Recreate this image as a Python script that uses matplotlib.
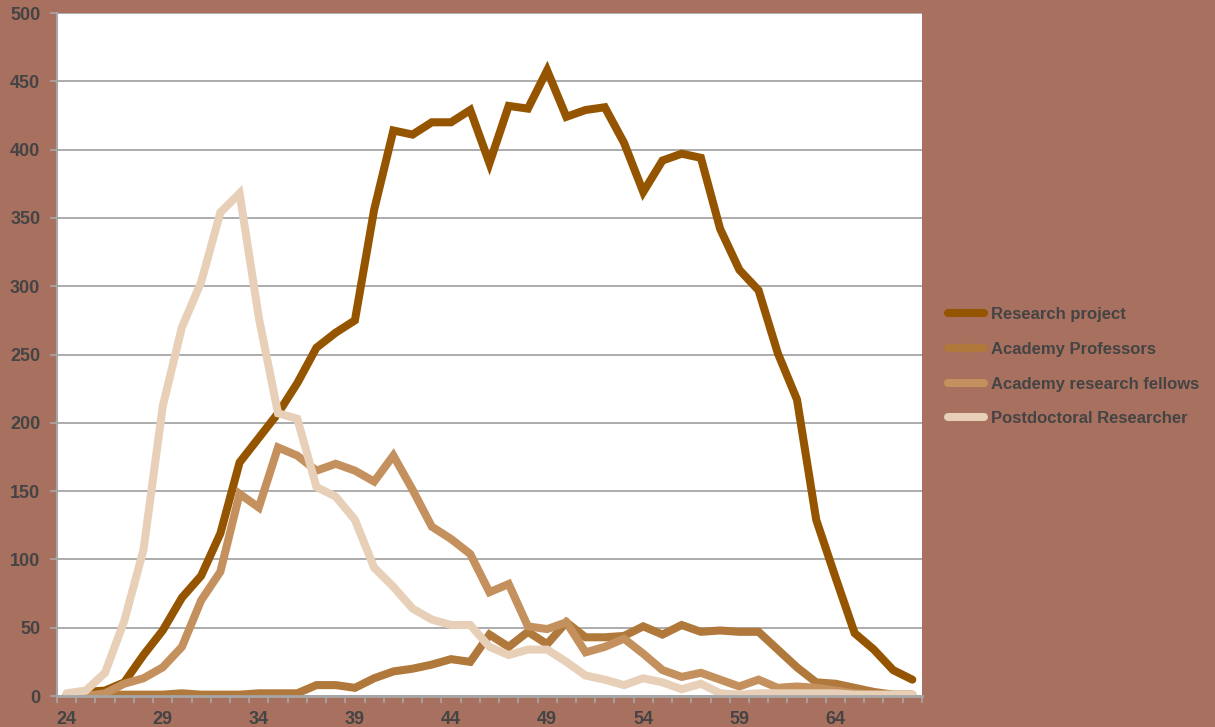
import numpy as np
import matplotlib
matplotlib.use("Agg")
import matplotlib.pyplot as plt
from matplotlib.ticker import MultipleLocator, FixedLocator

plt.rcParams['font.family'] = ['Liberation Sans', 'DejaVu Sans']

ages = list(range(24, 69))

research_project = [1, 3, 4, 10, 30, 48, 72, 88, 119, 171, 189, 207, 229, 255, 266,
                    275, 356, 414, 411, 420, 420, 429, 390, 432, 430, 458, 424, 429,
                    431, 405, 369, 392, 397, 394, 342, 312, 297, 251, 217, 129, 87,
                    46, 34, 19, 12]
academy_professors = [0, 0, 1, 1, 1, 1, 2, 1, 1, 1, 2, 2, 2, 8, 8, 6, 13, 18, 20, 23,
                      27, 25, 45, 36, 47, 38, 54, 43, 43, 44, 51, 45, 52, 47, 48, 47,
                      47, 34, 21, 10, 9, 6, 3, 1, 1]
research_fellows = [0, 0, 2, 9, 13, 21, 36, 70, 91, 148, 138, 182, 176, 165, 170, 165,
                    157, 176, 151, 124, 115, 104, 76, 82, 51, 49, 54, 32, 36, 42, 31,
                    19, 14, 17, 12, 7, 12, 6, 7, 6, 4, 2, 1, 1, 1]
postdoc = [2, 4, 17, 55, 107, 212, 270, 303, 354, 368, 277, 207, 203, 153, 146, 129,
           94, 80, 64, 56, 52, 52, 36, 30, 34, 34, 25, 15, 12, 8, 13, 10, 5, 9, 2, 1,
           2, 2, 2, 2, 2, 1, 1, 1, 1]

series = [
    ("Research project", research_project, "#955500"),
    ("Academy Professors", academy_professors, "#b0783a"),
    ("Academy research fellows", research_fellows, "#c4915e"),
    ("Postdoctoral Researcher", postdoc, "#e8d0b8"),
]

bg = "#a8705e"
txt = "#444444"
grey = "#a6a6a6"

fig = plt.figure(figsize=(12.15, 7.27), dpi=100, facecolor=bg)
ax = fig.add_axes([0.0469, 0.0426, 0.7119, 0.9395])
ax.set_facecolor("white")

for name, vals, col in series:
    ax.plot(ages, vals, color=col, lw=5.8, label=name, solid_capstyle="round",
            solid_joinstyle="miter")

ax.set_xlim(23.5, 68.5)
ax.set_ylim(0, 500)

ax.yaxis.set_major_locator(MultipleLocator(50))
ax.xaxis.set_major_locator(FixedLocator(ages[::5]))
ax.xaxis.set_minor_locator(FixedLocator(np.arange(23.5, 69, 1)))

ax.yaxis.grid(True, color=grey, lw=1.3)
ax.get_ygridlines()[-1].set_visible(False)
ax.set_axisbelow(True)

for s in ["top", "right"]:
    ax.spines[s].set_visible(False)
ax.spines["left"].set_color(grey)
ax.spines["left"].set_linewidth(1.5)
ax.spines["bottom"].set_color(grey)
ax.spines["bottom"].set_linewidth(2)

ax.tick_params(axis="y", length=5, width=1.2, color=grey, pad=7,
               labelsize=13, labelcolor=txt)
ax.tick_params(axis="x", which="major", length=0, pad=11,
               labelsize=13, labelcolor=txt)
ax.tick_params(axis="x", which="minor", length=5, width=1.2, color=grey)
for lab in ax.get_xticklabels() + ax.get_yticklabels():
    lab.set_fontweight("bold")

leg = fig.legend(loc="upper left", bbox_to_anchor=(0.7675, 0.598), frameon=False,
                 handlelength=2.2, handletextpad=0.42, labelspacing=1.18,
                 prop={"size": 12, "weight": "bold"})
for t in leg.get_texts():
    t.set_color(txt)

fig.savefig("out.png", dpi=100, facecolor=bg)
